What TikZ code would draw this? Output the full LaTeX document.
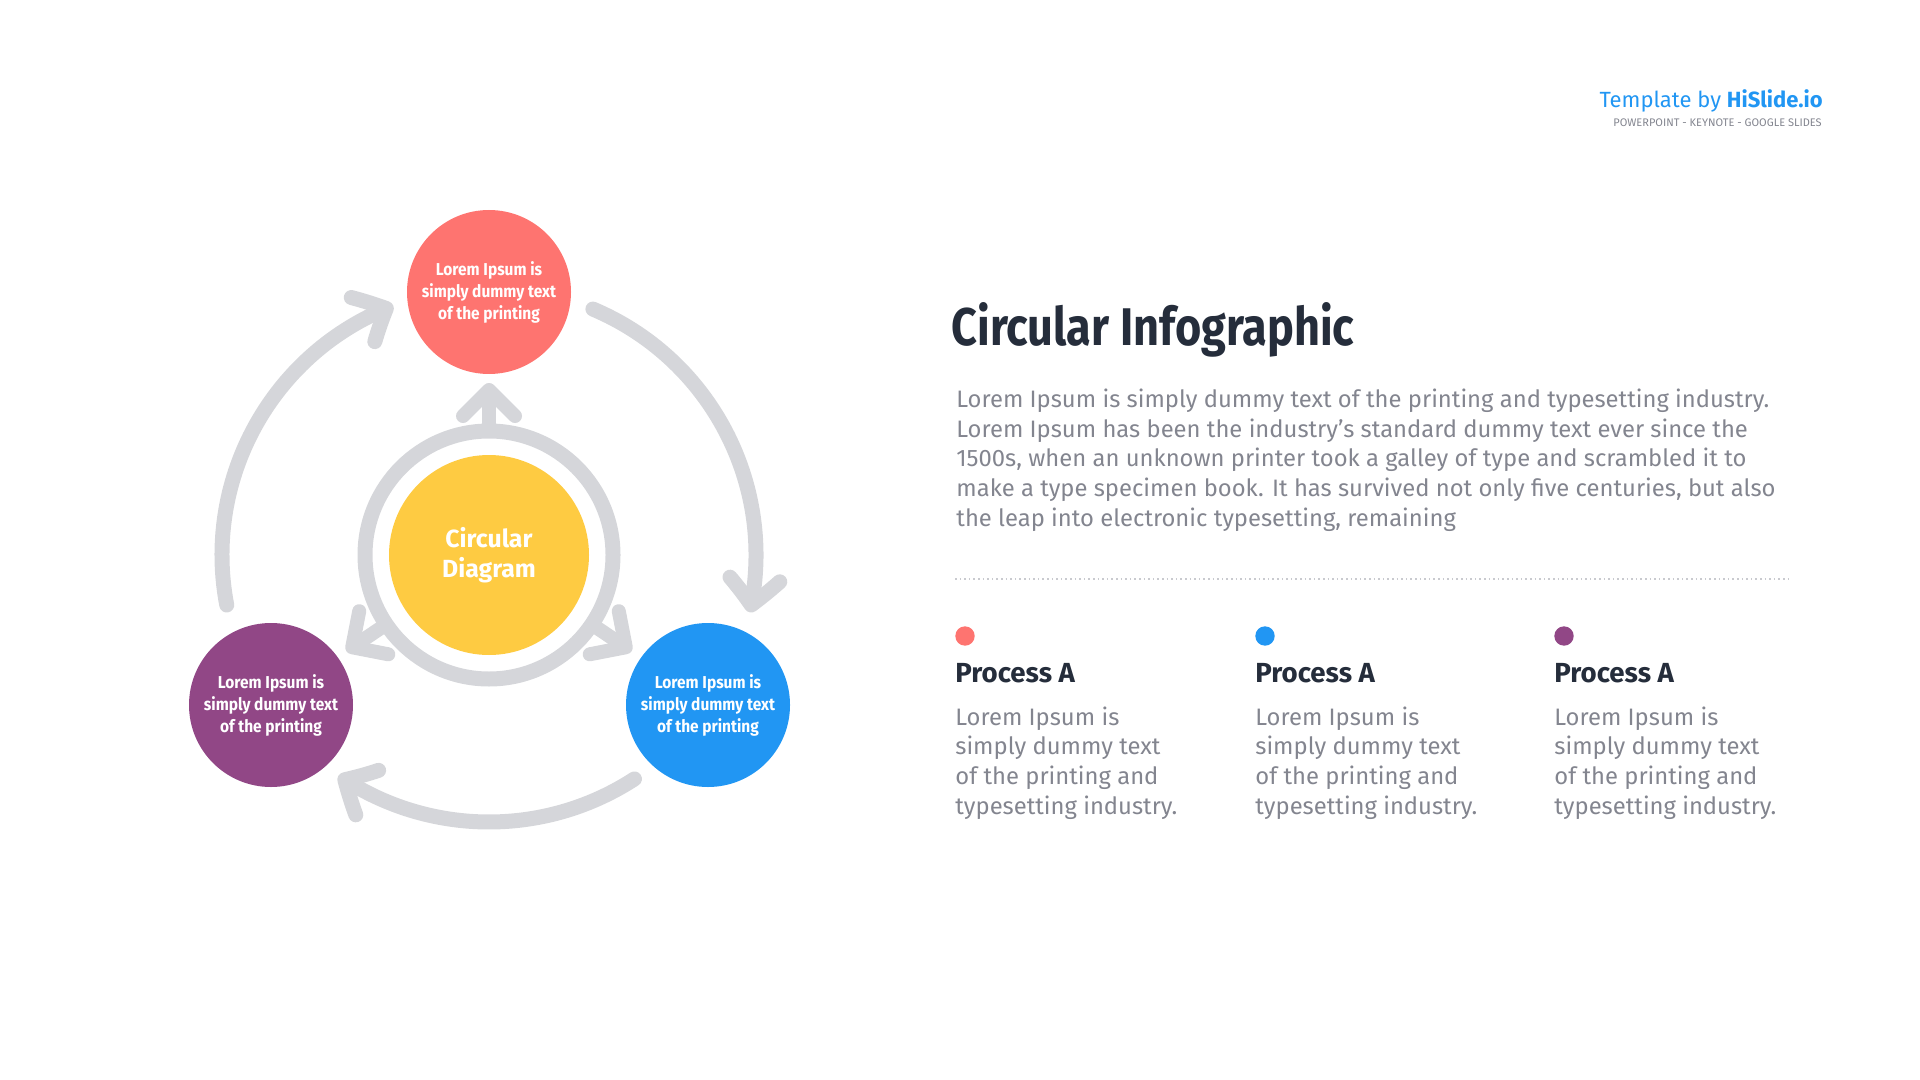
\documentclass[tikz,border=0pt]{standalone}
\usepackage{fontspec}
\setmainfont{Fira Sans}
\newfontfamily\titlefont[FakeStretch=0.85]{Fira Sans}
\newfontfamily\bubblefont[FakeStretch=0.9]{Fira Sans}
\usetikzlibrary{arrows.meta,bending}

\definecolor{coral}{HTML}{FE7470}
\definecolor{azure}{HTML}{2196F3}
\definecolor{plum}{HTML}{914786}
\definecolor{sunny}{HTML}{FECB42}
\definecolor{ringgray}{HTML}{D5D6DA}
\definecolor{inkdark}{HTML}{252D3B}
\definecolor{bodygray}{HTML}{83858F}
\definecolor{rulegray}{HTML}{C9CACF}

\tikzset{
    bubble node/.style={circle, minimum size=82pt, inner sep=0, text=white, align=center,
        font=\bubblefont\bfseries\fontsize{8.6}{11}\selectfont},
    core node/.style={circle, fill=sunny, minimum size=100pt, inner sep=0, text=white, align=center,
        font=\bfseries\fontsize{12.4}{15}\selectfont},
    dot node/.style={circle, minimum size=9.7pt, inner sep=0},
    ring line/.style={draw=ringgray, line width=7.5pt},
    spoke arrow/.style={draw=ringgray, line width=7pt, -{Straight Barb[length=13pt, width=26pt, round]}},
    cycle arc/.style={draw=ringgray, line width=7.5pt, line cap=round,
        -{Straight Barb[length=13pt, width=25pt, round, bend]}},
    title text/.style={anchor=base west, inner sep=0, text=inkdark, font=\titlefont\bfseries\fontsize{26.5}{30}\selectfont},
    body text/.style={anchor=base west, inner sep=0, align=left, text=bodygray,
        font=\fontsize{11.9}{14.8}\selectfont},
    head text/.style={anchor=base west, inner sep=0, text=inkdark, font=\bfseries\fontsize{13.8}{16}\selectfont},
    brand text/.style={anchor=base east, inner sep=0, text=azure, font=\fontsize{11}{13}\selectfont},
    tag text/.style={anchor=base east, inner sep=0, text=bodygray, font=\fontsize{5.5}{6}\selectfont}
    }

\begin{document}
\begin{tikzpicture}[x=0.5pt, y=0.5pt]
    \useasboundingbox (0,0) rectangle (1920,-1080);

    % cycle
    \node[core node] (core) at (489,-555) {Circular\\Diagram};
    \node[bubble node, fill=coral] (top) at (489,-292) {Lorem Ipsum is\\simply dummy text\\of the printing};
    \node[bubble node, fill=plum] (left) at (271,-705) {Lorem Ipsum is\\simply dummy text\\of the printing};
    \node[bubble node, fill=azure] (right) at (708,-705) {Lorem Ipsum is\\simply dummy text\\of the printing};

    \draw[ring line] (core.center) circle[radius=124];
    \foreach \a in {90,214,-34}
        \draw[spoke arrow] ([shift={(\a:124)}]core.center) -- ([shift={(\a:172)}]core.center);
    \foreach \s/\e in {190.8/111, 67.1/-12.4, -57/-124.3}
        \draw[cycle arc] ([shift={(\s:267)}]core.center) arc[start angle=\s, end angle=\e, radius=267];

    % text side (base anchors sit on the last line)
    \node[brand text] (brand) at (1823,-108) {Template by \textbf{HiSlide.io}};
    \node[tag text] (tag) at (1822,-127) {POWERPOINT - KEYNOTE - GOOGLE SLIDES};

    \node[title text] (title) at (951,-346) {Circular Infographic};
    \node[body text] (intro) at (956,-526) {Lorem Ipsum is simply dummy text of the printing and typesetting industry.\\
        Lorem Ipsum has been the industry's standard dummy text ever since the\\
        1500s, when an unknown printer took a galley of type and scrambled it to\\
        make a type specimen book. It has survived not only five centuries, but also\\
        the leap into electronic typesetting, remaining};
    \draw[rulegray, line width=0.8pt, dash pattern=on 0.8pt off 1.5pt] (955,-579) -- (1788,-579);

    \foreach \x/\c [count=\i] in {955/coral, 1255/azure, 1554/plum} {
        \node[dot node, fill=\c] (dot\i) at (\x+10,-636) {};
        \node[head text] (head\i) at (\x,-682) {Process A};
        \node[body text] (col\i) at (\x,-814) {Lorem Ipsum is\\simply dummy text\\of the printing and\\typesetting industry.};
    }
\end{tikzpicture}
\end{document}
